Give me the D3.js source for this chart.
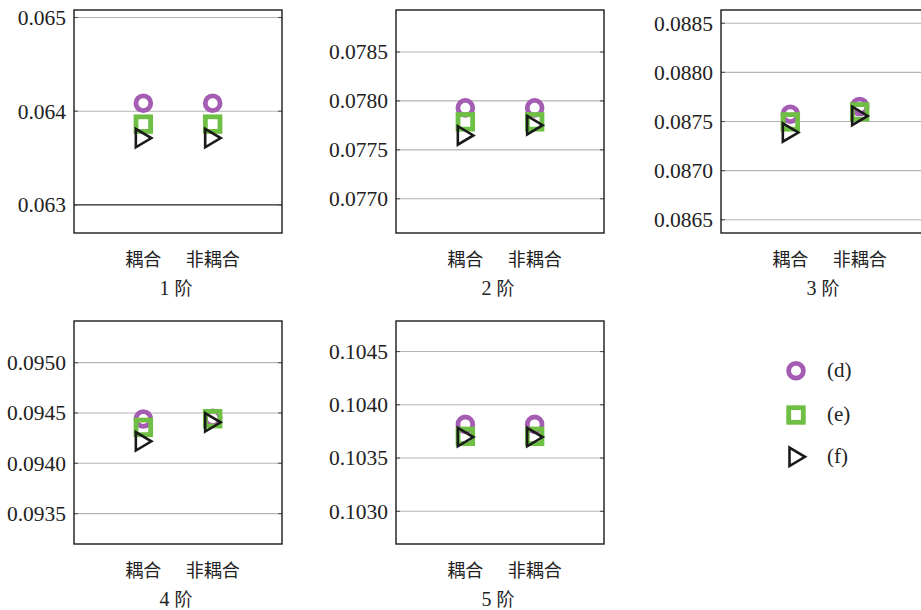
<!DOCTYPE html>
<html>
<head>
<meta charset="utf-8">
<script src="https://cdn.jsdelivr.net/npm/d3@7"></script>
<style>
  html, body { margin: 0; padding: 0; background: #fff; }
  svg { display: block; }
</style>
</head>
<body>
<svg id="chart" width="921" height="610"></svg>
<script>
// Modal frequency comparison, orders 1-5, coupled vs. uncoupled models
const orders = ["1 阶", "2 阶", "3 阶", "4 阶", "5 阶"];
const categories = ["耦合", "非耦合"];
const seriesNames = ["(d)", "(e)", "(f)"];

// series values per order: [耦合, 非耦合]
const seriesD = [
  [0.064085, 0.064085],
  [0.077929, 0.077929],
  [0.087574, 0.087653],
  [0.094440, 0.094447],
  [0.103816, 0.103816]
];
const seriesE = [
  [0.063862, 0.063862],
  [0.077786, 0.077786],
  [0.087496, 0.087598],
  [0.094357, 0.094443],
  [0.103704, 0.103704]
];
const seriesF = [
  [0.063713, 0.063713],
  [0.077647, 0.077752],
  [0.087388, 0.087557],
  [0.094218, 0.094407],
  [0.103697, 0.103697]
];

// y-axis ranges and tick labels per order
const yDomains = [
  [0.06270, 0.06508],
  [0.07665, 0.078929],
  [0.086365, 0.088635],
  [0.093198, 0.095414],
  [0.102693, 0.104787]
];
const yTicks = [
  [0.063, 0.064, 0.065],
  [0.0770, 0.0775, 0.0780, 0.0785],
  [0.0865, 0.0870, 0.0875, 0.0880, 0.0885],
  [0.0935, 0.0940, 0.0945, 0.0950],
  [0.1030, 0.1035, 0.1040, 0.1045]
];
const tickDecimals = [3, 4, 4, 4, 4];

const colors = { d: "#a55db3", e: "#6fbf45", f: "#1a1a1a" };

const svg = d3.select("#chart");
const W = 208, H = 223;
const panelPos = [
  [74, 10], [396, 10], [721, 10],
  [74, 321], [396, 321]
];

const serifFont = "Liberation Serif";
const cjkFont = "Noto Sans CJK SC";

function drawCircle(g, x, y) {
  g.append("circle").attr("cx", x).attr("cy", y).attr("r", 7.4)
    .attr("fill", "none").attr("stroke", colors.d).attr("stroke-width", 4.8);
}
function drawSquare(g, x, y) {
  const s = 14.6;
  g.append("rect").attr("x", x - s / 2).attr("y", y - s / 2)
    .attr("width", s).attr("height", s)
    .attr("fill", "none").attr("stroke", colors.e).attr("stroke-width", 4.8);
}
function drawTriangle(g, x, y) {
  const p = d3.path();
  p.moveTo(x - 7.5, y - 9.2);
  p.lineTo(x + 8, y);
  p.lineTo(x - 7.5, y + 9.2);
  p.closePath();
  g.append("path").attr("d", p.toString())
    .attr("fill", "none").attr("stroke", colors.f)
    .attr("stroke-width", 2.6).attr("stroke-linejoin", "miter");
}

orders.forEach((name, i) => {
  const [px, py] = panelPos[i];
  const g = svg.append("g").attr("transform", `translate(${px},${py})`);

  const x = d3.scalePoint().domain(categories).range([0, W]).padding(1);
  const y = d3.scaleLinear().domain(yDomains[i]).range([H, 0]);

  // horizontal grid lines
  g.selectAll("line.grid").data(yTicks[i]).join("line")
    .attr("class", "grid")
    .attr("x1", 0).attr("x2", W)
    .attr("y1", d => y(d)).attr("y2", d => y(d))
    .attr("stroke", (d, k) => (i === 0 && k === 0) ? "#222" : "#b4b4b4")
    .attr("stroke-width", (d, k) => (i === 0 && k === 0) ? 1.4 : 1.1);

  // y axis labels
  const yAxis = d3.axisLeft(y).tickValues(yTicks[i])
    .tickFormat(d3.format(`.${tickDecimals[i]}f`))
    .tickSize(0).tickPadding(8);
  const ax = g.append("g").call(yAxis)
    .attr("font-family", serifFont).attr("font-size", 21.5);
  ax.select(".domain").remove();
  ax.selectAll("text").attr("fill", "#222");

  // small inner ticks on both sides
  yTicks[i].forEach(t => {
    g.append("line").attr("x1", 0).attr("x2", 4).attr("y1", y(t)).attr("y2", y(t))
      .attr("stroke", "#555").attr("stroke-width", 1.1);
    g.append("line").attr("x1", W - 4).attr("x2", W).attr("y1", y(t)).attr("y2", y(t))
      .attr("stroke", "#555").attr("stroke-width", 1.1);
  });

  // frame
  g.append("rect").attr("x", 0).attr("y", 0).attr("width", W).attr("height", H)
    .attr("fill", "none").attr("stroke", "#1a1a1a").attr("stroke-width", 1.4);

  // markers
  categories.forEach((c, j) => {
    const cx = x(c);
    drawCircle(g, cx, y(seriesD[i][j]));
    drawSquare(g, cx, y(seriesE[i][j]));
    drawTriangle(g, cx, y(seriesF[i][j]));
  });

  // category labels
  g.selectAll("text.cat").data(categories).join("text")
    .attr("class", "cat")
    .attr("x", d => x(d)).attr("y", H + 33)
    .attr("text-anchor", "middle")
    .attr("font-family", cjkFont)
    .attr("font-size", 18).attr("fill", "#222")
    .text(d => d);

  // order title: serif numeral followed by the CJK character
  const [num, unit] = name.split(" ");
  const t = g.append("text")
    .attr("x", W / 2 - 2).attr("y", H + 62)
    .attr("text-anchor", "middle").attr("fill", "#222");
  t.append("tspan").attr("font-family", serifFont).attr("font-size", 20).text(num + " ");
  t.append("tspan").attr("font-family", cjkFont).attr("font-size", 18).text(unit);
});

// legend
const legend = svg.append("g").attr("transform", "translate(796,0)");
const legendY = [370.7, 415, 456.8];
drawCircle(legend, 0, legendY[0]);
drawSquare(legend, 0, legendY[1]);
drawTriangle(legend, 1, legendY[2]);
legend.selectAll("text").data(seriesNames).join("text")
  .attr("x", 31).attr("y", (d, k) => legendY[k] + 6)
  .attr("font-family", serifFont).attr("font-size", 21).attr("fill", "#222")
  .text(d => d);
</script>
</body>
</html>
